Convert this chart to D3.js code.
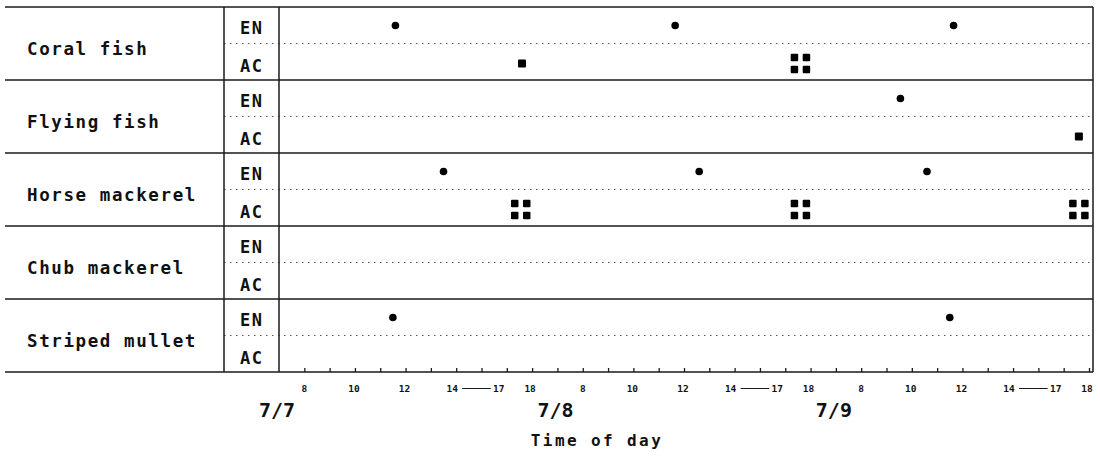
<!DOCTYPE html>
<html>
<head>
<meta charset="utf-8">
<script src="https://cdn.jsdelivr.net/npm/d3@7"></script>
<style>
  body { margin: 0; background: #fff; }
  svg { display: block; }
  .lbl { font-family: "DejaVu Sans Mono", monospace; fill: #111; }
</style>
</head>
<body>
<div id="chart"></div>
<script>
// categories
const species = ["Coral fish", "Flying fish", "Horse mackerel", "Chub mackerel", "Striped mullet"];
const phases = ["EN", "AC"];
const days = ["7/7", "7/8", "7/9"];
const hourLabels = [8, 10, 12, 14, 17, 18];

// observations: species, day index, hour of day (, number of marks)
const enEvents = [
    ["Coral fish", 0, 11.6], ["Coral fish", 1, 11.65], ["Coral fish", 2, 11.65],
    ["Flying fish", 2, 9.55],
    ["Horse mackerel", 0, 13.5], ["Horse mackerel", 1, 12.6], ["Horse mackerel", 2, 10.6],
    ["Striped mullet", 0, 11.5], ["Striped mullet", 2, 11.5]
];
const acEvents = [
    ["Coral fish", 0, 17.6, 1], ["Coral fish", 1, 17.6, 4],
    ["Flying fish", 2, 17.6, 1],
    ["Horse mackerel", 0, 17.55, 4], ["Horse mackerel", 1, 17.6, 4], ["Horse mackerel", 2, 17.6, 4]
];

const W = 1100, H = 457;
const topY = 7, rowH = 73;
const xLeft = 5, xMid1 = 224, xMid2 = 279, xRight = 1093;

const svg = d3.select("#chart").append("svg")
    .attr("width", W).attr("height", H);

// time axis: every day has 11 hour slots (8..14, break, 17, 18, gap)
function slot(day, hour) {
    let s;
    if (hour <= 14) s = hour - 7;
    else if (hour >= 17) s = hour - 8;
    else s = 7 + (hour - 14) / 3 * 2;
    return day * 11 + s;
}
const x = d3.scaleLinear().domain([0, 32]).range([xMid2, 1089]);

const y = d3.scaleBand().domain(species).range([topY, topY + rowH * species.length]);

const ink = "#1a1a1a";

// row separators
svg.selectAll(".row-line")
    .data(d3.range(species.length + 1))
    .enter().append("line")
    .attr("x1", xLeft).attr("x2", xRight)
    .attr("y1", i => topY + i * rowH).attr("y2", i => topY + i * rowH)
    .attr("stroke", ink).attr("stroke-width", 1.4);

// dotted EN/AC divider
svg.selectAll(".mid-line")
    .data(species)
    .enter().append("line")
    .attr("x1", xMid1).attr("x2", xRight)
    .attr("y1", d => y(d) + rowH / 2).attr("y2", d => y(d) + rowH / 2)
    .attr("stroke", "#555").attr("stroke-width", 1)
    .attr("stroke-dasharray", "1.5,4.5");

// vertical borders
[xMid1, xMid2, xRight].forEach(xx => {
    svg.append("line")
        .attr("x1", xx).attr("x2", xx)
        .attr("y1", topY).attr("y2", topY + rowH * species.length)
        .attr("stroke", ink).attr("stroke-width", 1.5);
});

// species names
svg.selectAll(".species")
    .data(species)
    .enter().append("text")
    .attr("class", "lbl")
    .attr("x", 27)
    .attr("y", d => y(d) + 48)
    .style("font-size", "17.5px")
    .style("font-weight", "bold")
    .style("letter-spacing", "1.6px")
    .text(d => d);

// EN / AC labels
species.forEach(sp => {
    phases.forEach((p, i) => {
        svg.append("text")
            .attr("class", "lbl")
            .attr("x", 240)
            .attr("y", y(sp) + (i === 0 ? 26.5 : 64.5))
            .style("font-size", "17px")
            .style("font-weight", "bold")
            .style("letter-spacing", "1.5px")
            .text(p);
    });
});

// ticks
const axisY = y.range()[1];
const tickAxis = d3.axisTop(x)
    .tickValues(d3.range(1, 33))
    .tickSize(4)
    .tickFormat("");
svg.append("g")
    .attr("transform", `translate(0,${axisY})`)
    .call(tickAxis)
    .call(g => g.select(".domain").remove())
    .call(g => g.selectAll(".tick line").attr("stroke", ink).attr("stroke-width", 1.3));

// hour labels
const labelShift = {8: 0, 10: -1, 12: -1, 14: -4, 17: -8, 18: -2};
days.forEach((d, di) => {
    hourLabels.forEach(h => {
        svg.append("text")
            .attr("class", "lbl")
            .attr("x", x(slot(di, h)) + labelShift[h])
            .attr("y", axisY + 20)
            .attr("text-anchor", "middle")
            .style("font-size", "9.5px")
            .style("font-weight", "bold")
            .text(h);
    });
    // dash between 14 and 17
    svg.append("line")
        .attr("x1", x(slot(di, 14)) + 6).attr("x2", x(slot(di, 17)) - 16)
        .attr("y1", axisY + 16.5).attr("y2", axisY + 16.5)
        .attr("stroke", ink).attr("stroke-width", 1);
    // date label at day start
    svg.append("text")
        .attr("class", "lbl")
        .attr("x", x(di * 11) - 2)
        .attr("y", axisY + 45)
        .attr("text-anchor", "middle")
        .style("font-size", "20px")
        .style("font-weight", "bold")
        .text(d);
});

// axis title
svg.append("text")
    .attr("class", "lbl")
    .attr("x", 597)
    .attr("y", axisY + 74)
    .attr("text-anchor", "middle")
    .style("font-size", "16px")
    .style("font-weight", "bold")
    .style("letter-spacing", "2.4px")
    .text("Time of day");

// EN marks: dots
svg.selectAll(".en")
    .data(enEvents)
    .enter().append("circle")
    .attr("cx", d => x(slot(d[1], d[2])))
    .attr("cy", d => y(d[0]) + 18.5)
    .attr("r", 3.8)
    .attr("fill", "#000");

// AC marks: one square or a block of four
const acSquares = [];
acEvents.forEach(d => {
    const cx = x(slot(d[1], d[2]));
    const cy = y(d[0]) + 56.5;
    if (d[3] === 1) {
        acSquares.push({cx: cx, cy: cy, s: 8});
    } else {
        [[-6, -6], [6, -6], [-6, 6], [6, 6]].forEach(o => {
            acSquares.push({cx: cx + o[0], cy: cy + o[1], s: 7.5});
        });
    }
});
svg.selectAll(".ac")
    .data(acSquares)
    .enter().append("rect")
    .attr("x", d => d.cx - d.s / 2)
    .attr("y", d => d.cy - d.s / 2)
    .attr("width", d => d.s)
    .attr("height", d => d.s)
    .attr("rx", 1)
    .attr("fill", "#000");
</script>
</body>
</html>
